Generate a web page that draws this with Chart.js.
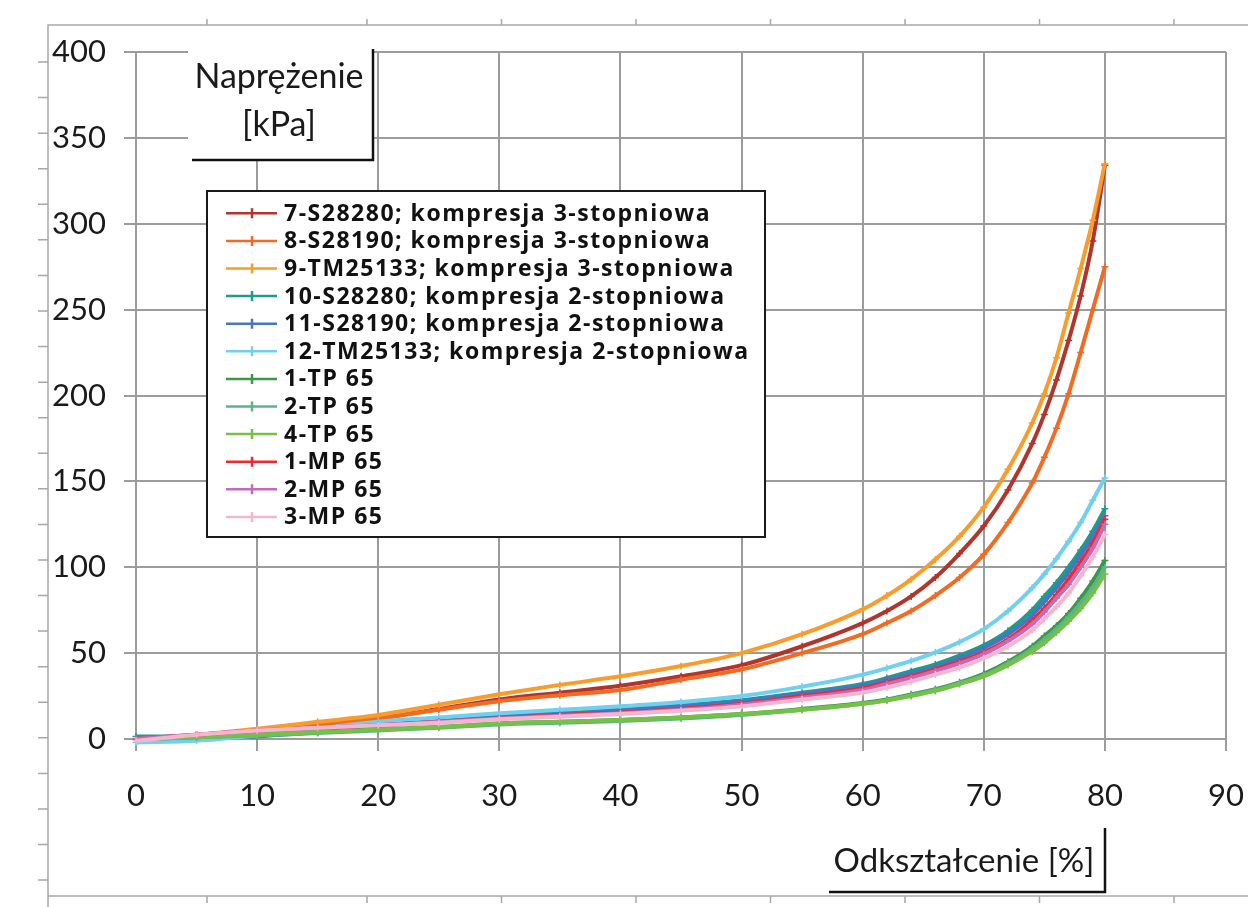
<!DOCTYPE html>
<html><head><meta charset="utf-8">
<script src="https://cdn.jsdelivr.net/npm/chart.js@4.4.0/dist/chart.umd.min.js"></script>
<style>html,body{margin:0;padding:0;background:#fff}#wrap{width:1248px;height:907px;position:relative}</style>
</head><body><div id="wrap"><canvas id="c"></canvas></div>
<script>
// ---- data ----
const strain = [0,5,10,15,20,25,30,35,40,45,50,55,60,62,64,66,68,70,72,74,75,76,77,78,79,80];
const s7_S28280_3  = [0,2,5,8.5,12,17.5,23,27,31,36.5,43,54,67.5,74.5,83,94,108,124,145,172,189,209,232,258,290,334];
const s8_S28190_3  = [0,2,5,8.5,12,17,22,25.5,28.5,34.5,40.5,50,61,67.5,74.5,83.5,94,107.5,126,149,164,181,201,225,250,275];
const s9_TM25133_3 = [0,2.5,6,10,14,20,26,31.5,36.5,42.5,50,61,75.5,83.5,93,104.5,118,135,157,184,201,222,248,274,302,335];
const s10_S28280_2 = [1.5,1.5,2,4.5,8,10.5,13,15,17,19.5,22.5,27,32,35.5,39.5,43.5,48.5,54.5,63,75,83,91,100,110,121,134];
const s11_S28190_2 = [0,0.5,1.5,4,7.5,10,12.5,14.5,16.5,19,22,26.5,31,34.5,38,42,47,53,61,72,80,88,97,107,118,130];
const s12_TM25133_2= [-2,-1,2,6,10,12.5,15,17,19,21.5,25,30.5,37.5,41.3,45.5,50.5,56.5,64,74.5,88,96,105,115,126,139,152];
const s1_TP = [0,1,2.5,4,5.5,7,9,10,11,12.5,14.5,17.5,21,23,26,29,33,38,45,54,60,66,73,82,92,104];
const s2_TP = [0,1,2,3.5,5,6.5,8.5,9.5,10.5,12,14,17,20.5,22.5,25.5,28.5,32.5,37,44,52.5,58,64,71,79,88,100];
const s4_TP = [0,1,2.5,4,5.5,7,9,10,11,12.5,14.5,17,20.5,22.5,25,28,32,36.5,43,51,56,62,68.5,76,85,96];
const s1_MP = [0,2.5,5,6.5,8,10,12,14,15.5,17.5,20.5,25,29.5,33,36.5,40.5,45,50.5,58,69,76,84,93,103,114,128];
const s2_MP = [0,2.5,5,6.5,8,10,12,13.5,15,17,20,24,28.5,32,35.5,39.5,44,49.5,57,67,74,82,90,100,111,125];
const s3_MP = [-1,2.5,5,6.5,8,9.5,11.5,13,14.5,16.5,19,23,27,30,33.5,37.5,41.5,47,54,63.5,70,77,85,95,106,119];

const seriesLabels = [
  '7-S28280; kompresja 3-stopniowa','8-S28190; kompresja 3-stopniowa','9-TM25133; kompresja 3-stopniowa',
  '10-S28280; kompresja 2-stopniowa','11-S28190; kompresja 2-stopniowa','12-TM25133; kompresja 2-stopniowa',
  '1-TP 65','2-TP 65','4-TP 65','1-MP 65','2-MP 65','3-MP 65'];
const seriesValues = [s7_S28280_3,s8_S28190_3,s9_TM25133_3,s10_S28280_2,s11_S28190_2,s12_TM25133_2,s1_TP,s2_TP,s4_TP,s1_MP,s2_MP,s3_MP];
const seriesColors = ['#b0352c','#f26b22','#f99c2c','#1f9a8b','#4677c5','#6fd0f0','#3b9847','#5ab58a','#75c145','#ee2a30','#c46bb8','#f3b6cf'];
const xTickValues = [0,10,20,30,40,50,60,70,80,90];
const yTickValues = [0,50,100,150,200,250,300,350,400];
const yTitle = ['Naprężenie','[kPa]'];
const xTitle = 'Odkształcenie [%]';

// ---- chart ----
const FONT = 'Lato, "Open Sans", sans-serif';
const GRID = '#9c9c9c';

const datasets = seriesLabels.map((lab, i) => ({
  label: lab,
  data: strain.map((x, k) => ({x: x, y: seriesValues[i][k]})),
  borderColor: seriesColors[i],
  backgroundColor: seriesColors[i],
  pointBorderColor: seriesColors[i],
  borderWidth: 4,
  pointStyle: 'cross',
  pointRadius: 3.5,
  pointBorderWidth: 1.5,
  showLine: true,
  cubicInterpolationMode: 'monotone',
  clip: false,
  order: seriesLabels.length - i
}));

const decor = {
  id: 'decor',
  beforeDraw(chart) {
    const ctx = chart.ctx;
    ctx.save();
    ctx.fillStyle = '#fff';
    ctx.fillRect(0, 0, chart.width, chart.height);
    ctx.strokeStyle = '#a8a8a8';
    ctx.lineWidth = 1.5;
    ctx.beginPath();
    ctx.moveTo(48, 907); ctx.lineTo(48, 25); ctx.lineTo(1248, 25);
    ctx.moveTo(48, 896); ctx.lineTo(1248, 896);
    const hx = [207, 367, 501.5, 636, 770.5, 905, 1039.5, 1174];
    hx.forEach(x => { ctx.moveTo(x, 25); ctx.lineTo(x, 19); ctx.moveTo(x, 896); ctx.lineTo(x, 903); });
    for (let k = 0; k < 24; k++) { const y = 62 + k * 35.57; ctx.moveTo(38, y); ctx.lineTo(48, y); }
    ctx.stroke();
    ctx.restore();
  },
  afterDraw(chart) {
    const ctx = chart.ctx;
    ctx.save();
    // y title box
    ctx.fillStyle = '#fff';
    ctx.fillRect(188, 49, 185, 111);
    ctx.strokeStyle = '#111';
    ctx.lineWidth = 2.5;
    ctx.beginPath();
    ctx.moveTo(192, 160); ctx.lineTo(373, 160); ctx.lineTo(373, 49);
    ctx.stroke();
    ctx.fillStyle = '#1a1a1a';
    ctx.font = '34px ' + FONT;
    ctx.textAlign = 'center';
    ctx.textBaseline = 'alphabetic';
    ctx.fillText(yTitle[0], 279, 88);
    ctx.fillText(yTitle[1], 279, 136);
    // x title box
    ctx.beginPath();
    ctx.moveTo(829, 892); ctx.lineTo(1105, 892); ctx.lineTo(1105, 828);
    ctx.stroke();
    ctx.font = '33px ' + FONT;
    ctx.fillText(xTitle, 964, 872);
    // legend
    const L = 207, T = 191, R = 765, B = 537;
    ctx.fillStyle = '#fff';
    ctx.fillRect(L, T, R - L, B - T);
    ctx.strokeStyle = '#1a1a1a';
    ctx.lineWidth = 2;
    ctx.strokeRect(L, T, R - L, B - T);
    ctx.font = 'bold 23px "Open Sans", Lato, sans-serif';
    ctx.textAlign = 'left';
    ctx.textBaseline = 'middle';
    const w0 = ctx.measureText(chart.data.datasets[0].label).width;
    const n0 = chart.data.datasets[0].label.length;
    const sp = Math.max(0, (427 - w0) / n0);
    if ('letterSpacing' in ctx) ctx.letterSpacing = sp.toFixed(2) + 'px';
    chart.data.datasets.forEach((ds, i) => {
      const y = 213.3 + i * 27.6;
      ctx.strokeStyle = ds.borderColor;
      ctx.lineWidth = 2.5;
      ctx.beginPath();
      ctx.moveTo(226, y); ctx.lineTo(277, y);
      ctx.moveTo(252, y - 5); ctx.lineTo(252, y + 5);
      ctx.stroke();
      ctx.fillStyle = '#111';
      ctx.fillText(ds.label, 284, y + 1);
    });
    ctx.restore();
  }
};

new Chart(document.getElementById('c'), {
  type: 'scatter',
  data: { datasets: datasets },
  options: {
    responsive: true,
    maintainAspectRatio: false,
    animation: false,
    layout: { padding: { top: 52, right: 22, left: 0, bottom: 0 } },
    plugins: { legend: { display: false }, tooltip: { enabled: false } },
    scales: {
      x: {
        type: 'linear', min: 0, max: 90,
        afterBuildTicks: s => { s.ticks = xTickValues.map(v => ({value: v})); },
        afterFit: s => { s.height = 168; s.paddingLeft = 0; s.paddingRight = 0; },
        ticks: { font: { family: FONT, size: 31 }, color: '#1a1a1a', padding: 26, maxRotation: 0 },
        grid: { color: GRID, lineWidth: 2, tickLength: 12, drawTicks: true },
        border: { color: GRID, width: 2 }
      },
      y: {
        type: 'linear', min: 0, max: 400,
        afterBuildTicks: s => { s.ticks = yTickValues.map(v => ({value: v})); },
        afterFit: s => { s.width = 136; s.paddingTop = 0; s.paddingBottom = 0; },
        ticks: { font: { family: FONT, size: 31 }, color: '#1a1a1a', padding: 18 },
        grid: { color: GRID, lineWidth: 2, tickLength: 12, drawTicks: true },
        border: { color: GRID, width: 2 }
      }
    }
  },
  plugins: [decor]
});
</script>
</body></html>
